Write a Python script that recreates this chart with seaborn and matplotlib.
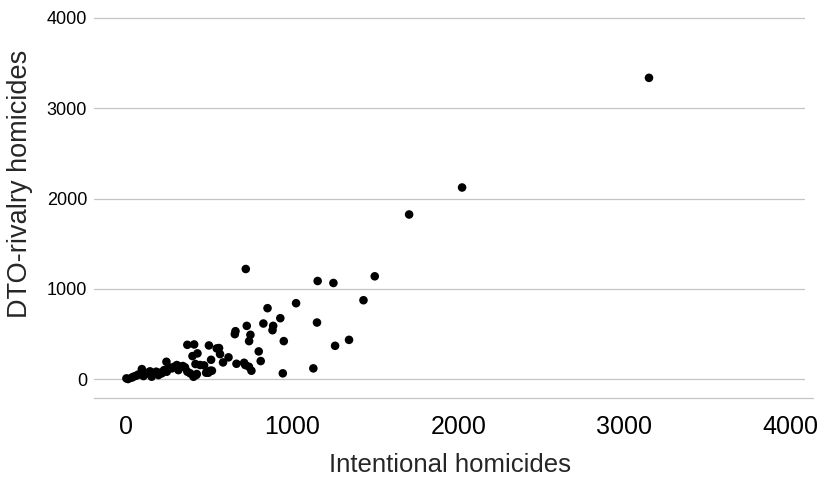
import matplotlib
matplotlib.use("Agg")
import matplotlib.pyplot as plt
import seaborn as sns
import pandas as pd

intentional = [0, 10, 32, 43, 59, 73, 93, 87, 103, 112, 132, 142, 152, 163, 179, 193, 203, 213, 227, 243,
               259, 274, 288, 304, 313, 323, 340, 353, 367, 384, 424, 494, 515,
               241, 416, 444, 468, 505, 480, 404, 420,
               367, 408, 497, 544, 558, 564, 398, 428, 510, 615, 797, 809, 582, 663, 709, 716, 738, 753,
               942, 1126, 719, 1152, 1247, 1022, 850, 927, 825, 884, 880, 1148, 725, 657, 653, 747, 739,
               948, 1257, 1341, 1496, 1428, 1703, 2022, 3148]
dto_rivalry = [7, 0, 15, 26, 37, 51, 110, 55, 33, 70, 63, 85, 26, 63, 81, 44, 70, 63, 99, 81,
               129, 118, 136, 155, 99, 136, 144, 129, 81, 63, 55, 70, 92,
               191, 166, 155, 151, 92, 70, 25, 44,
               379, 383, 372, 339, 343, 276, 254, 284, 213, 240, 306, 199, 184, 169, 180, 155, 136, 92,
               63, 118, 1219, 1086, 1064, 840, 785, 674, 615, 589, 541, 626, 589, 530, 497, 490, 420,
               420, 368, 434, 1138, 873, 1823, 2122, 3337]

x_ticks = [0, 1000, 2000, 3000, 4000]
y_ticks = [0, 1000, 2000, 3000, 4000]

df = pd.DataFrame({"Intentional homicides": intentional, "DTO-rivalry homicides": dto_rivalry})

sns.set_style("white")
plt.rcParams['font.family'] = ['Liberation Sans', 'DejaVu Sans']

fig = plt.figure(figsize=(8.25, 4.87), dpi=100)
ax = fig.add_axes([0.114, 0.1828, 0.862, 0.786])

sns.scatterplot(data=df, x="Intentional homicides", y="DTO-rivalry homicides", ax=ax,
                color="black", s=38, edgecolor="none", zorder=3)

ax.set_xlim(-195, 4089)
ax.set_ylim(-210, 4031)
ax.set_xticks(x_ticks)
ax.set_yticks(y_ticks)
ax.set_xticklabels([str(v) for v in x_ticks], fontsize=18)
ax.set_yticklabels([str(v) for v in y_ticks], fontsize=13)

ax.yaxis.grid(True, color="#c4c4c4", linewidth=0.9)
ax.xaxis.grid(False)
for s in ["left", "top", "right"]:
    ax.spines[s].set_visible(False)
ax.spines["bottom"].set_color("#c4c4c4")
ax.spines["bottom"].set_linewidth(0.9)
ax.spines["bottom"].set_bounds(-195, 4137)

ax.tick_params(axis="y", length=0, pad=5, colors="black")
ax.tick_params(axis="x", length=8.6, width=0.9, color="#c4c4c4", pad=3.5, labelcolor="black")

ax.set_xlabel("Intentional homicides", fontsize=18.5, labelpad=10)
ax.set_ylabel("DTO-rivalry homicides", fontsize=19.5)
ax.yaxis.set_label_coords(-0.0858, 0.559)

fig.savefig("out.png", dpi=100)
